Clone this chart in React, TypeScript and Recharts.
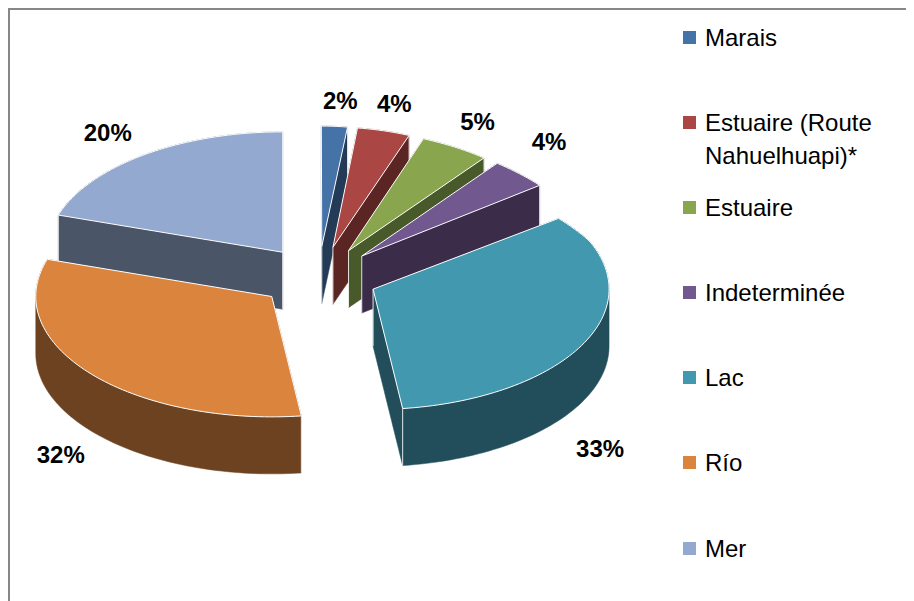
import React from 'react';
import { PieChart, Pie, Legend } from 'recharts';

// ---- data ----
const categories = ['Marais', 'Estuaire (Route Nahuelhuapi)*', 'Estuaire', 'Indeterminée', 'Lac', 'Río', 'Mer'];
const shares = [2, 4, 5, 4, 33, 32, 20];
const topColors = ['#4572A7', '#AA4643', '#89A54E', '#71588F', '#4198AF', '#DB843D', '#93A9CF'];
const sideColors = ['#243B58', '#5B2523', '#485A29', '#3B2D4A', '#224E5B', '#6D4220', '#4B5568'];
const labelNudges = [[1, -4], [-8, -6], [-13, -7], [-16, -17], [-29, 46], [4, 10], [-11, -5]];

const data = categories.map((name, i) => ({ name, value: shares[i], top: topColors[i], side: sideColors[i], nudge: labelNudges[i] }));

// ---- geometry ----
const W = 906;
const H = 593;
const CX = 310;
const CY = 269;
const R = 236;
const SQ = 0.51;
const EXPLODE = 60;
const DEPTH = 57;
const LABEL_R = 339;
const PERSP = 0.12;
const RAD = Math.PI / 180;
const FONT = '"Liberation Sans", Arial, sans-serif';

type Pt = [number, number];

function persp(cx: number, cy: number, x: number, y: number, r: number): Pt {
  if (x <= cx) return [x, y];
  const v = (cy - y) / SQ / r;
  const f = 1 - PERSP * Math.max(0, v - 0.3);
  return [cx + (x - cx) * f, y];
}

function slicePoints(p: any): Pt[] {
  const cx = Number(p.cx), cy = Number(p.cy), r = Number(p.outerRadius);
  const sa = Number(p.startAngle), ea = Number(p.endAngle);
  const ma = p.midAngle != null ? Number(p.midAngle) : (sa + ea) / 2;
  const ox = cx + EXPLODE * Math.cos(ma * RAD);
  const oy = cy - SQ * EXPLODE * Math.sin(ma * RAD);
  const pts: Pt[] = [persp(cx, cy, ox, oy, r)];
  const n = Math.max(2, Math.ceil(Math.abs(ea - sa) / 1.5));
  for (let i = 0; i <= n; i++) {
    const a = sa + ((ea - sa) * i) / n;
    pts.push(persp(cx, cy, ox + r * Math.cos(a * RAD), oy - SQ * r * Math.sin(a * RAD), r));
  }
  return pts;
}

function convexHull(points: Pt[]): Pt[] {
  const p = points.slice().sort((a, b) => a[0] - b[0] || a[1] - b[1]);
  const cross = (o: Pt, a: Pt, b: Pt) => (a[0] - o[0]) * (b[1] - o[1]) - (a[1] - o[1]) * (b[0] - o[0]);
  const lower: Pt[] = [];
  for (const pt of p) {
    while (lower.length >= 2 && cross(lower[lower.length - 2], lower[lower.length - 1], pt) <= 0) lower.pop();
    lower.push(pt);
  }
  const upper: Pt[] = [];
  for (let i = p.length - 1; i >= 0; i--) {
    const pt = p[i];
    while (upper.length >= 2 && cross(upper[upper.length - 2], upper[upper.length - 1], pt) <= 0) upper.pop();
    upper.push(pt);
  }
  upper.pop();
  lower.pop();
  return lower.concat(upper);
}

const toPath = (pts: Pt[]) => 'M' + pts.map((q) => `${q[0].toFixed(2)},${q[1].toFixed(2)}`).join('L') + 'Z';

function entryOf(props: any) {
  const pl = props.payload && props.payload.side ? props.payload : props;
  return pl;
}

const SideShape = (props: any) => {
  const pts = slicePoints(props);
  const all = pts.concat(pts.map((q) => [q[0], q[1] + DEPTH] as Pt));
  const hull = convexHull(all);
  const e = entryOf(props);
  const color = e.side || '#333';
  const m = pts.length;
  const gx = pts.reduce((s, q) => s + q[0], 0) / m;
  const gy = pts.reduce((s, q) => s + q[1], 0) / m;
  const visible = (j: number) => {
    const a = pts[j], b = pts[(j + 1) % m];
    let nx = b[1] - a[1], ny = -(b[0] - a[0]);
    const mx = (a[0] + b[0]) / 2 - gx, my = (a[1] + b[1]) / 2 - gy;
    if (nx * mx + ny * my < 0) { nx = -nx; ny = -ny; }
    const len = Math.hypot(nx, ny) || 1;
    return ny / len > 0.05;
  };
  const verts = [0, 1, m - 1];
  const lines = verts
    .filter((v) => visible(v) || visible((v - 1 + m) % m))
    .map((v) => (
      <line key={v} x1={pts[v][0]} y1={pts[v][1]} x2={pts[v][0]} y2={pts[v][1] + DEPTH} stroke="#ffffff" strokeWidth={1} strokeOpacity={0.85} />
    ));
  return (
    <g>
      <path d={toPath(hull)} fill={color} stroke={color} strokeWidth={0.5} />
      {lines}
    </g>
  );
};

const TopShape = (props: any) => {
  const pts = slicePoints(props);
  const e = entryOf(props);
  return <path d={toPath(pts)} fill={e.top || '#999'} stroke="#ffffff" strokeWidth={1} strokeLinejoin="round" />;
};

const renderLabel = (props: any) => {
  const ma = Number(props.midAngle);
  const e = entryOf(props);
  const nudge = e.nudge || [0, 0];
  const s = Math.sin(ma * RAD);
  const x = Number(props.cx) + LABEL_R * Math.cos(ma * RAD) + nudge[0];
  const y = Number(props.cy) - SQ * LABEL_R * s + (s < 0 ? DEPTH : 0) + nudge[1];
  return (
    <text x={x} y={y} textAnchor="middle" dominantBaseline="central" fill="#000" fontSize={24} fontWeight="bold" fontFamily={FONT}>
      {`${Math.round(Number(props.percent) * 100)}%`}
    </text>
  );
};

const renderLegend = () => (
  <div style={{ fontFamily: FONT, fontSize: 24, color: '#000' }}>
    {categories.map((c, i) => (
      <div key={c} style={{ display: 'flex', alignItems: 'flex-start', height: 85.2 }}>
        <div style={{ width: 13, height: 13, marginTop: 10, background: topColors[i], flex: '0 0 auto' }} />
        <div style={{ marginLeft: 9, lineHeight: '33px', width: 200 }}>{c}</div>
      </div>
    ))}
  </div>
);

export default function App() {
  return (
    <div style={{ position: 'relative', width: W, height: H, fontFamily: FONT }}>
      <PieChart width={W} height={H} margin={{ top: 0, right: 0, bottom: 0, left: 0 }}>
        <Pie
          data={data}
          dataKey="value"
          nameKey="name"
          cx={CX}
          cy={CY}
          outerRadius={R}
          startAngle={90}
          endAngle={-270}
          isAnimationActive={false}
          shape={SideShape}
          legendType="none"
          label={false}
          labelLine={false}
        />
        <Pie
          data={data}
          dataKey="value"
          nameKey="name"
          cx={CX}
          cy={CY}
          outerRadius={R}
          startAngle={90}
          endAngle={-270}
          isAnimationActive={false}
          shape={TopShape}
          label={renderLabel}
          labelLine={false}
        />
        <Legend
          layout="vertical"
          align="right"
          verticalAlign="top"
          content={renderLegend}
          wrapperStyle={{ position: 'absolute', left: 675, top: 12.5, width: 231 }}
        />
      </PieChart>
      <div
        style={{
          position: 'absolute',
          left: 0,
          top: 0,
          width: W,
          height: H,
          boxSizing: 'border-box',
          borderLeft: '2px solid #878787',
          borderTop: '2px solid #878787',
          pointerEvents: 'none',
        }}
      />
    </div>
  );
}
